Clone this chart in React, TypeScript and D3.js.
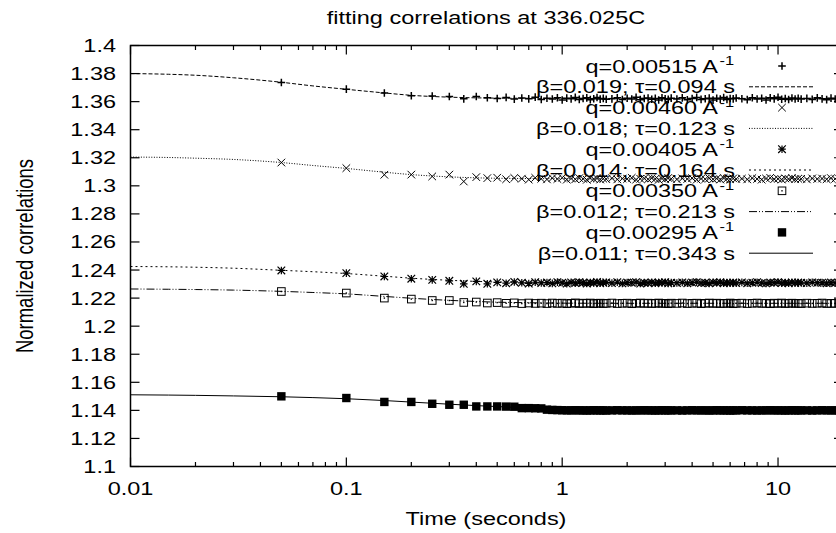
import React from 'react';
import * as d3 from 'd3';

// sample times (s), multi-tau style grid
const times = [
  0.05, 0.1, 0.15, 0.2, 0.25, 0.3, 0.35, 0.4, 0.45, 0.5, 0.55, 0.6, 0.65, 0.7, 0.75, 0.8,
  0.85, 0.9, 0.95, 1.0, 1.05, 1.1, 1.15, 1.2, 1.25, 1.3, 1.35, 1.4, 1.45, 1.5, 1.55, 1.6,
  1.7, 1.8, 1.9, 2.0, 2.1, 2.2, 2.3, 2.4, 2.5, 2.6, 2.7, 2.8, 2.9, 3.0, 3.1, 3.2,
  3.4, 3.6, 3.8, 4.0, 4.2, 4.4, 4.6, 4.8, 5.0, 5.2, 5.4, 5.6, 5.8, 6.0, 6.2, 6.4,
  6.8, 7.2, 7.6, 8.0, 8.4, 8.8, 9.2, 9.6, 10.0, 10.4, 10.8, 11.2, 11.6, 12.0, 12.4, 12.8,
  13.6, 14.4, 15.2, 16.0, 16.8, 17.6, 18.4, 19.2,
];

const q515 = [
  1.3736, 1.3689, 1.3661, 1.3642, 1.364, 1.3637, 1.362, 1.3637, 1.3628, 1.3622, 1.363, 1.3618, 1.3626, 1.362, 1.3632, 1.3615,
  1.3624, 1.3619, 1.3628, 1.3612, 1.3625, 1.362, 1.363, 1.3616, 1.3622, 1.3627, 1.3614, 1.3621, 1.3629, 1.3618, 1.3623, 1.3617,
  1.362, 1.3628, 1.3615, 1.3624, 1.3619, 1.3631, 1.3614, 1.3622, 1.3626, 1.3617, 1.3623, 1.3612, 1.3628, 1.362, 1.3616, 1.3625,
  1.3619, 1.3627, 1.3613, 1.3622, 1.363, 1.3616, 1.3621, 1.3625, 1.3611, 1.3624, 1.3618, 1.3629, 1.3615, 1.3622, 1.362, 1.3626,
  1.3621, 1.3614, 1.3628, 1.3619, 1.3624, 1.3612, 1.3627, 1.362, 1.3631, 1.3617, 1.3622, 1.3615, 1.3626, 1.3619, 1.3624, 1.3618,
  1.3623, 1.3616, 1.3627, 1.362, 1.3614, 1.3625, 1.3619, 1.3622,
];

const q460 = [
  1.3166, 1.3126, 1.3079, 1.308, 1.3067, 1.308, 1.3031, 1.3062, 1.3055, 1.3058, 1.3047, 1.3056, 1.3051, 1.3044, 1.3057, 1.305,
  1.3046, 1.3055, 1.3049, 1.3058, 1.3044, 1.3052, 1.3047, 1.3055, 1.305, 1.3043, 1.3056, 1.3049, 1.3053, 1.3045, 1.3051, 1.3048,
  1.3054, 1.3046, 1.3052, 1.3049, 1.3057, 1.3044, 1.305, 1.3053, 1.3047, 1.3055, 1.3049, 1.3043, 1.3052, 1.3048, 1.3056, 1.305,
  1.3046, 1.3053, 1.3049, 1.3055, 1.3044, 1.3051, 1.3048, 1.3054, 1.3047, 1.3052, 1.3045, 1.3056, 1.305, 1.3047, 1.3053, 1.3049,
  1.3051, 1.3046, 1.3055, 1.3049, 1.3044, 1.3052, 1.3057, 1.3048, 1.305, 1.3045, 1.3053, 1.3049, 1.3055, 1.3047, 1.3051, 1.305,
  1.3046, 1.3053, 1.3049, 1.3052, 1.3047, 1.3054, 1.305, 1.3048,
];

const q405 = [
  1.2397, 1.2378, 1.2354, 1.2338, 1.233, 1.2323, 1.2302, 1.2319, 1.2302, 1.2312, 1.2306, 1.2315, 1.2309, 1.2304, 1.2313, 1.2308,
  1.2311, 1.2305, 1.2314, 1.2309, 1.2303, 1.2312, 1.2307, 1.2313, 1.231, 1.2304, 1.2311, 1.2308, 1.2315, 1.2306, 1.231, 1.2312,
  1.2307, 1.2313, 1.2305, 1.2311, 1.2309, 1.2314, 1.2304, 1.231, 1.2308, 1.2312, 1.2306, 1.2311, 1.2309, 1.2313, 1.2305, 1.231,
  1.2308, 1.2312, 1.2306, 1.2311, 1.2314, 1.2307, 1.231, 1.2305, 1.2312, 1.2309, 1.2313, 1.2306, 1.231, 1.2308, 1.2311, 1.2307,
  1.2312, 1.2306, 1.231, 1.2313, 1.2308, 1.2305, 1.2311, 1.2309, 1.2314, 1.2307, 1.231, 1.2306, 1.2312, 1.2308, 1.2311, 1.2309,
  1.2307, 1.2312, 1.2309, 1.231, 1.2306, 1.2311, 1.2308, 1.231,
];

const q350 = [
  1.2247, 1.2236, 1.22, 1.2193, 1.2183, 1.2183, 1.2169, 1.2172, 1.2165, 1.2168, 1.2163, 1.2166, 1.2161, 1.2165, 1.2162, 1.2164,
  1.2161, 1.2165, 1.2162, 1.2164, 1.216, 1.2163, 1.2166, 1.2161, 1.2164, 1.2162, 1.2165, 1.216, 1.2163, 1.2164, 1.2161, 1.2163,
  1.2165, 1.2161, 1.2163, 1.2164, 1.216, 1.2163, 1.2165, 1.2162, 1.2164, 1.2161, 1.2163, 1.2165, 1.2162, 1.2163, 1.216, 1.2164,
  1.2162, 1.2165, 1.2161, 1.2163, 1.2164, 1.216, 1.2163, 1.2165, 1.2162, 1.2164, 1.2161, 1.2163, 1.2162, 1.2165, 1.216, 1.2163,
  1.2164, 1.2161, 1.2163, 1.2165, 1.2162, 1.2163, 1.216, 1.2164, 1.2162, 1.2165, 1.2161, 1.2163, 1.2164, 1.2162, 1.2163, 1.2161,
  1.2164, 1.2162, 1.2163, 1.2165, 1.2161, 1.2163, 1.2162, 1.2164,
];

const q295 = [
  1.15, 1.1488, 1.146, 1.146, 1.1447, 1.144, 1.144, 1.1428, 1.1428, 1.1428, 1.1427, 1.1426, 1.1416, 1.1416, 1.1415, 1.1414,
  1.1405, 1.1403, 1.1402, 1.1401, 1.14, 1.14, 1.1401, 1.14, 1.14, 1.1399, 1.14, 1.1401, 1.14, 1.14, 1.14, 1.1399,
  1.14, 1.1401, 1.14, 1.14, 1.1399, 1.14, 1.14, 1.1401, 1.14, 1.14, 1.1399, 1.14, 1.1401, 1.14, 1.14, 1.14,
  1.14, 1.1399, 1.14, 1.1401, 1.14, 1.14, 1.14, 1.1399, 1.14, 1.1401, 1.14, 1.14, 1.14, 1.1399, 1.14, 1.14,
  1.1401, 1.14, 1.14, 1.1399, 1.14, 1.14, 1.1401, 1.14, 1.14, 1.14, 1.1399, 1.14, 1.1401, 1.14, 1.14, 1.14,
  1.14, 1.1399, 1.14, 1.1401, 1.14, 1.14, 1.14, 1.1399,
];

// fitted curves, sampled
const fitTimes = [0.01, 0.015, 0.02, 0.03, 0.05, 0.07, 0.1, 0.15, 0.2, 0.3, 0.4, 0.5, 0.7, 1, 2, 5, 10, 20];
const fit515 = [1.38, 1.3795, 1.3788, 1.377, 1.3738, 1.3712, 1.3688, 1.3662, 1.3645, 1.3632, 1.3627, 1.3625, 1.3624, 1.3623, 1.3623, 1.3623, 1.3623, 1.3623];
const fit460 = [1.3205, 1.3202, 1.3197, 1.3188, 1.3166, 1.3145, 1.3124, 1.3097, 1.308, 1.3064, 1.3057, 1.3054, 1.3052, 1.3051, 1.305, 1.305, 1.305, 1.305];
const fit405 = [1.2425, 1.2423, 1.242, 1.2413, 1.2398, 1.2388, 1.2375, 1.2356, 1.2342, 1.2327, 1.2319, 1.2315, 1.2312, 1.2311, 1.231, 1.231, 1.231, 1.231];
const fit350 = [1.2265, 1.2263, 1.2261, 1.2257, 1.2248, 1.224, 1.223, 1.2212, 1.2199, 1.2184, 1.2176, 1.2171, 1.2167, 1.2164, 1.2163, 1.2163, 1.2163, 1.2163];
const fit295 = [1.1511, 1.1509, 1.1507, 1.1503, 1.1497, 1.1491, 1.1483, 1.147, 1.1459, 1.1444, 1.1434, 1.1427, 1.1417, 1.1408, 1.1402, 1.14, 1.14, 1.14];

const qLabels = ['q=0.00515 A', 'q=0.00460 A', 'q=0.00405 A', 'q=0.00350 A', 'q=0.00295 A'];
const fitLabels = ['β=0.019; τ=0.094 s', 'β=0.018; τ=0.123 s', 'β=0.014; τ=0.164 s', 'β=0.012; τ=0.213 s', 'β=0.011; τ=0.343 s'];
const markers = ['plus', 'cross', 'star', 'box', 'boxfill'];
const dashes = ['4,2', '1,1.6', '2,3', '8,2,1,2,1,2', 'none'];

const yTicks = [1.1, 1.12, 1.14, 1.16, 1.18, 1.2, 1.22, 1.24, 1.26, 1.28, 1.3, 1.32, 1.34, 1.36, 1.38, 1.4];
const xTicks = [0.01, 0.1, 1, 10];
const xTickLabels = ['0.01', '0.1', '1', '10'];

const pointSeries = [q515, q460, q405, q350, q295];
const fitSeries = [fit515, fit460, fit405, fit350, fit295];

const font = 'Liberation Sans, Arial, Helvetica, sans-serif';
const FS = 18.5;
const SX = 1.27; // the original picture is wider than tall

function T({ x, y, anchor = 'start', size = FS, children }: any) {
  return (
    <text
      transform={`translate(${x},${y}) scale(${SX},1)`}
      textAnchor={anchor}
      fontFamily={font}
      fontSize={size}
      fill="#000"
    >
      {children}
    </text>
  );
}

function Marker({ kind, x, y }: { kind: string; x: number; y: number }) {
  const s = 3.8;
  if (kind === 'plus')
    return <path d={`M${x - s},${y}H${x + s}M${x},${y - s}V${y + s}`} stroke="#000" strokeWidth={1.5} />;
  if (kind === 'cross')
    return <path d={`M${x - s},${y - s}L${x + s},${y + s}M${x - s},${y + s}L${x + s},${y - s}`} stroke="#000" strokeWidth={1} />;
  if (kind === 'star')
    return (
      <path
        d={`M${x - s},${y}H${x + s}M${x},${y - s}V${y + s}M${x - s},${y - s}L${x + s},${y + s}M${x - s},${y + s}L${x + s},${y - s}`}
        stroke="#000"
        strokeWidth={1.2}
      />
    );
  if (kind === 'box')
    return (
      <g>
        <rect x={x - s} y={y - s} width={2 * s} height={2 * s} fill="none" stroke="#000" strokeWidth={1} />
        <rect x={x - 0.7} y={y - 0.7} width={1.4} height={1.4} fill="#000" />
      </g>
    );
  return <rect x={x - 4.2} y={y - 4.2} width={8.4} height={8.4} fill="#000" />;
}

export default function App() {
  const x = d3.scaleLog().domain([0.01, 20]).range([130.5, 843]);
  const y = d3.scaleLinear().domain([1.1, 1.4]).range([466.5, 45.5]);
  const [x0, x1] = x.range();
  const [y0, y1] = y.range();

  const line = d3
    .line<[number, number]>()
    .x((d) => x(d[0]))
    .y((d) => y(d[1]))
    .curve(d3.curveMonotoneX);

  const minor: number[] = [];
  [0.01, 0.1, 1, 10].forEach((dec) => {
    for (let k = 2; k <= 9; k++) if (dec * k < 20) minor.push(dec * k);
  });

  const qRight = 718;
  const legendRight = 735;
  const rowY = (k: number) => 66 + 20.8 * k;

  return (
    <svg width={836} height={533} style={{ display: 'block', position: 'absolute', left: 0, top: 0, background: '#fff' }}>
      <rect width={836} height={533} fill="#fff" />
      <T x={486} y={23.5} anchor="middle">
        fitting correlations at 336.025C
      </T>

      {/* ticks */}
      <g stroke="#000" strokeWidth={1.2}>
        {yTicks.map((t) => (
          <g key={t}>
            <line x1={x0} x2={x0 + 9} y1={y(t)} y2={y(t)} />
            <line x1={x1} x2={x1 - 9} y1={y(t)} y2={y(t)} />
          </g>
        ))}
        {xTicks.map((t) => (
          <g key={t}>
            <line x1={x(t)} x2={x(t)} y1={y0} y2={y0 - 9} />
            <line x1={x(t)} x2={x(t)} y1={y1} y2={y1 + 9} />
          </g>
        ))}
        {minor.map((t) => (
          <g key={t}>
            <line x1={x(t)} x2={x(t)} y1={y0} y2={y0 - 4.5} />
            <line x1={x(t)} x2={x(t)} y1={y1} y2={y1 + 4.5} />
          </g>
        ))}
      </g>

      {yTicks.map((t) => (
        <T key={t} x={116} y={y(t) + 6.5} anchor="end">
          {d3.format('~g')(t)}
        </T>
      ))}
      {xTicks.map((t, i) => (
        <T key={t} x={x(t)} y={y0 + 28} anchor="middle">
          {xTickLabels[i]}
        </T>
      ))}
      <T x={486} y={525} anchor="middle">
        Time (seconds)
      </T>
      <text
        transform={`translate(33,${(y0 + y1) / 2}) rotate(-90) scale(1,${SX})`}
        textAnchor="middle"
        fontFamily={font}
        fontSize={FS}
      >
        Normalized correlations
      </text>

      {/* series and legend */}
      {pointSeries.map((vals, i) => {
        const fit: [number, number][] = fitTimes.map((t, j) => [t, fitSeries[i][j]]);
        const ly1 = rowY(2 * i);
        const ly2 = rowY(2 * i + 1);
        return (
          <g key={i}>
            <g>
              {vals.map((v, j) => (
                <Marker key={j} kind={markers[i]} x={x(times[j])} y={y(v)} />
              ))}
            </g>
            <T x={qRight} y={ly1 + 6.5} anchor="end">
              {qLabels[i]}
            </T>
            <T x={qRight + 1.5} y={ly1 - 1} size={13}>
              -1
            </T>
            <Marker kind={markers[i]} x={782} y={ly1} />
            <path d={line(fit) || ''} fill="none" stroke="#000" strokeWidth={1} strokeDasharray={dashes[i]} />
            <T x={legendRight} y={ly2 + 6.5} anchor="end">
              {fitLabels[i]}
            </T>
            <line x1={749} x2={813} y1={ly2} y2={ly2} stroke="#000" strokeWidth={1} strokeDasharray={dashes[i]} />
          </g>
        );
      })}

      <rect x={x0} y={y1} width={x1 - x0} height={y0 - y1} fill="none" stroke="#000" strokeWidth={1.5} />
    </svg>
  );
}
